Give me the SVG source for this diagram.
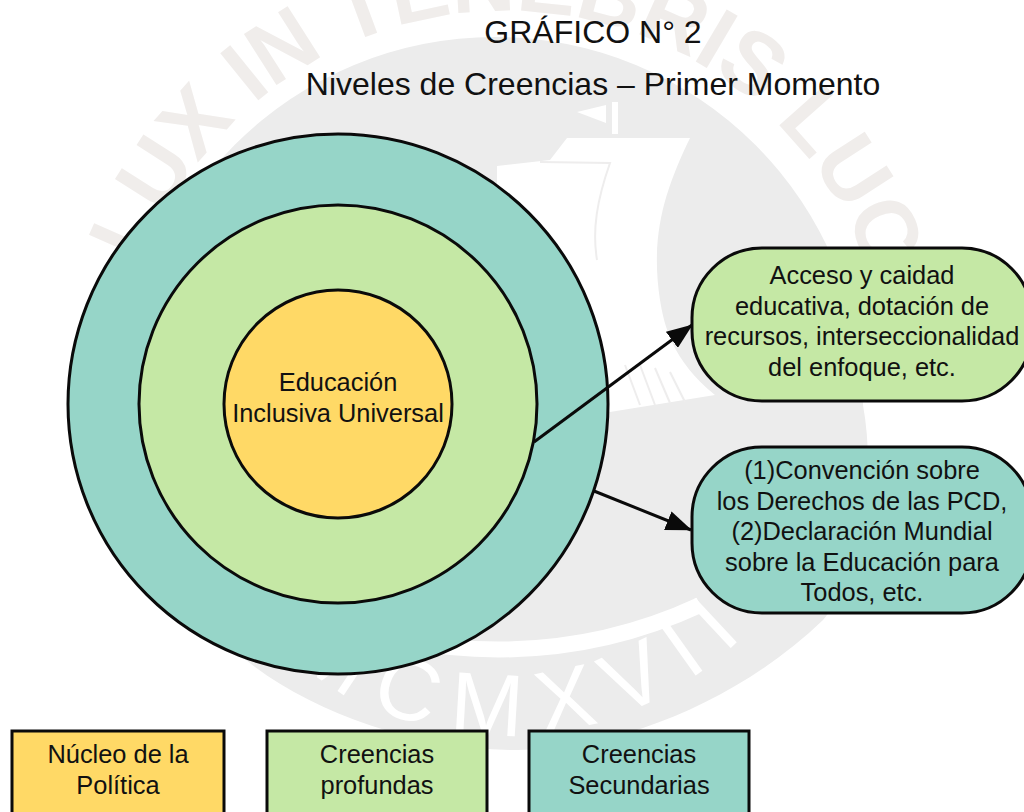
<svg xmlns="http://www.w3.org/2000/svg" width="1024" height="812" viewBox="0 0 1024 812">
<style>
text{font-family:"Liberation Sans",Arial,sans-serif;fill:#111}
.l{font-size:25.4px;text-anchor:middle}
.t{font-size:32px;text-anchor:middle}
.s{stroke:#0a0a0a;stroke-width:3}
.y{fill:#FFD966}.g{fill:#C5E8A5}.b{fill:#96D5C8}
.c{fill:none;stroke:#0a0a0a;stroke-width:3}
.wm{font-size:88px;font-weight:700;fill:#F0EDEB}
.wn{font-size:88px;fill:#fff}
.h{stroke:#EEEDED;stroke-width:2;fill:none}
</style>
<defs>
<marker id="ah" markerUnits="userSpaceOnUse" markerWidth="26" markerHeight="20" refX="25" refY="10" orient="auto"><path d="M0 0L26 10L0 20Z" fill="#0a0a0a"/></marker>
<path id="ringTop" d="M143 265A385 385 0 0 1 890 400"/>
<path id="ringBottom" d="M290 657A335 335 0 0 0 742 637"/>
</defs>
<rect width="1024" height="812" fill="#fff"/>
<g id="watermark">
<path d="M127 405A368 368 0 0 1 863 405C880 500 850 590 823 620C740 700 620 750 517 750C420 750 320 715 255 667C180 610 130 510 127 405Z" fill="#ECECEC"/>
<text class="wm"><textPath href="#ringTop" textLength="1060" lengthAdjust="spacing">LUX IN TENEBRIS LUCET</textPath></text>
<path d="M400 640Q560 670 700 605" fill="none" stroke="#fff" stroke-width="16"/>
<text class="wn"><textPath href="#ringBottom" textLength="497" lengthAdjust="spacing">MCMXVII</textPath></text>
<path d="M497 166L550 160L567 138H690C665 190 650 235 660 300C664 325 672 360 715 395L610 412L497 330Z" fill="#fff"/>
<path d="M577 112L606 105V123Z" fill="#fff"/>
<rect x="612" y="102" width="6" height="32" fill="#fff"/>
<path class="h" d="M540 162L610 163C597 200 592 230 597 260M625 365L640 405M640 365L655 405M655 368L670 403M670 372L685 402"/>
</g>
<g id="title">
<text class="t" x="593" y="43">GRÁFICO N° 2</text>
<text class="t" x="593" y="95">Niveles de Creencias – Primer Momento</text>
</g>
<g id="outer"><circle class="b s" cx="338" cy="404" r="270"/></g>
<g id="middle"><circle class="g s" cx="338" cy="404" r="199"/></g>
<g id="inner"><circle class="y s" cx="338" cy="404" r="114"/>
<text class="l" x="338" y="391">Educación</text>
<text class="l" x="338" y="422">Inclusiva Universal</text></g>
<g id="connectors">
<path class="c" d="M534 442L692 325" marker-end="url(#ah)"/>
<path class="c" d="M594 491L691 530" marker-end="url(#ah)"/>
</g>
<g id="node-acceso"><rect class="g s" x="692" y="248" width="340" height="153" rx="70"/>
<text class="l" x="862" y="284">Acceso y caidad</text>
<text class="l" x="862" y="315">educativa, dotación de</text>
<text class="l" x="862" y="345">recursos, interseccionalidad</text>
<text class="l" x="862" y="376">del enfoque, etc.</text></g>
<g id="node-convencion"><rect class="b s" x="692" y="447" width="340" height="166" rx="70"/>
<text class="l" x="862" y="479">(1)Convención sobre</text>
<text class="l" x="862" y="510">los Derechos de las PCD,</text>
<text class="l" x="862" y="540">(2)Declaración Mundial</text>
<text class="l" x="862" y="571">sobre la Educación para</text>
<text class="l" x="862" y="601">Todos, etc.</text></g>
<g id="legend-nucleo"><rect class="y s" x="12" y="731" width="212" height="95"/>
<text class="l" x="118" y="763">Núcleo de la</text><text class="l" x="118" y="794">Política</text></g>
<g id="legend-profundas"><rect class="g s" x="267" y="731" width="220" height="95"/>
<text class="l" x="377" y="763">Creencias</text><text class="l" x="377" y="794">profundas</text></g>
<g id="legend-secundarias"><rect class="b s" x="529" y="731" width="220" height="95"/>
<text class="l" x="639" y="763">Creencias</text><text class="l" x="639" y="794">Secundarias</text></g>
</svg>
